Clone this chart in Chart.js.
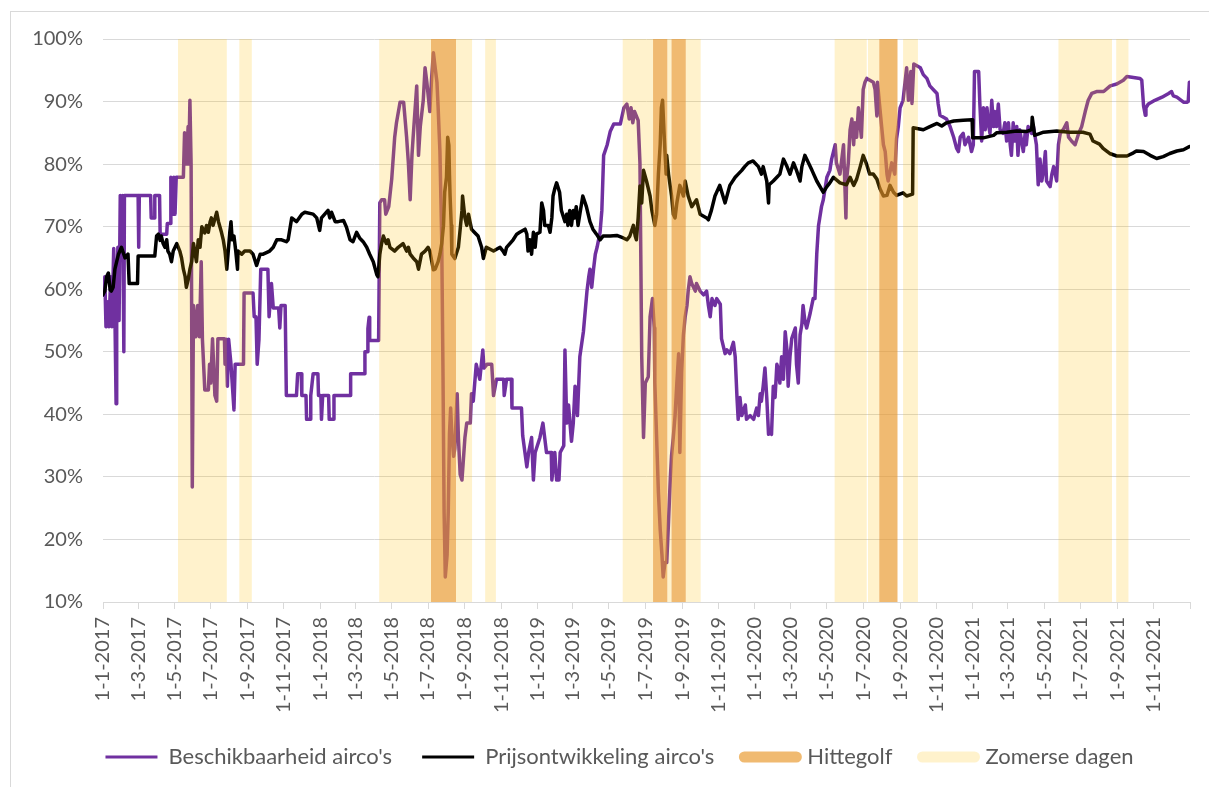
<!DOCTYPE html>
<html>
<head>
<meta charset="utf-8">
<script src="https://cdn.jsdelivr.net/npm/chart.js@4.4.1/dist/chart.umd.min.js"></script>
<style>
  html, body { margin: 0; padding: 0; background: #fff; }
  #wrap { position: relative; width: 1209px; height: 787px; }
  #frame { position: absolute; left: 10px; top: 11px; right: 0; bottom: 0; border-left: 1px solid #d9d9d9; border-top: 1px solid #d9d9d9; }
  #chart { position: relative; }
</style>
</head>
<body>
<div id="wrap">
  <div id="frame"></div>
  <canvas id="chart"></canvas>
</div>
<script>
// tick labels on the date axis (every two months)
const tickLabels = [
  '1-1-2017', '1-3-2017', '1-5-2017', '1-7-2017', '1-9-2017', '1-11-2017',
  '1-1-2018', '1-3-2018', '1-5-2018', '1-7-2018', '1-9-2018', '1-11-2018',
  '1-1-2019', '1-3-2019', '1-5-2019', '1-7-2019', '1-9-2019', '1-11-2019',
  '1-1-2020', '1-3-2020', '1-5-2020', '1-7-2020', '1-9-2020', '1-11-2020',
  '1-1-2021', '1-3-2021', '1-5-2021', '1-7-2021', '1-9-2021', '1-11-2021'
];
const axisEnd = '1-1-2022';

// Beschikbaarheid airco's
const availDates = [
  '2017-01-01','2017-01-03','2017-01-04','2017-01-06','2017-01-09','2017-01-11','2017-01-14','2017-01-16',
  '2017-01-19','2017-01-21','2017-01-23','2017-01-24','2017-01-26','2017-01-28','2017-01-30','2017-02-02',
  '2017-02-03','2017-02-05','2017-02-06','2017-03-01','2017-03-02','2017-03-03','2017-03-22','2017-03-23',
  '2017-03-28','2017-03-29','2017-04-06','2017-04-07','2017-04-18','2017-04-19','2017-04-24','2017-04-25',
  '2017-04-28','2017-04-30','2017-05-02','2017-05-04','2017-05-16','2017-05-18','2017-05-21','2017-05-24',
  '2017-05-25','2017-05-27','2017-05-29','2017-05-31','2017-06-02','2017-06-06','2017-06-09','2017-06-12',
  '2017-06-15','2017-06-17','2017-06-21','2017-06-27','2017-06-29','2017-07-01','2017-07-04','2017-07-08',
  '2017-07-11','2017-07-13','2017-07-24','2017-07-25','2017-07-27','2017-07-29','2017-07-31','2017-08-04',
  '2017-08-09','2017-08-11','2017-08-25','2017-08-26','2017-09-10','2017-09-12','2017-09-15','2017-09-17',
  '2017-09-20','2017-09-23','2017-10-05','2017-10-07','2017-10-11','2017-10-14','2017-10-23','2017-10-25',
  '2017-10-27','2017-11-03','2017-11-05','2017-11-22','2017-11-24','2017-11-30','2017-12-01','2017-12-08',
  '2017-12-09','2017-12-15','2017-12-16','2017-12-20','2017-12-28','2017-12-29','2018-01-02','2018-01-03',
  '2018-01-05','2018-01-15','2018-01-16','2018-01-23','2018-01-24','2018-02-20','2018-02-21','2018-03-16',
  '2018-03-17','2018-03-21','2018-03-22','2018-03-24','2018-03-25','2018-04-09','2018-04-11','2018-04-14',
  '2018-04-19','2018-04-21','2018-04-26','2018-05-01','2018-05-06','2018-05-09','2018-05-15','2018-05-21',
  '2018-05-24','2018-05-26','2018-05-29','2018-06-01','2018-06-04','2018-06-06','2018-06-12','2018-06-15',
  '2018-06-18','2018-06-23','2018-06-26','2018-06-29','2018-07-04','2018-07-07','2018-07-10','2018-07-13',
  '2018-07-16','2018-07-18','2018-07-21','2018-07-24','2018-07-26','2018-07-28','2018-07-30','2018-08-02',
  '2018-08-04','2018-08-06','2018-08-08','2018-08-10','2018-08-13','2018-08-15','2018-08-19','2018-08-21',
  '2018-08-24','2018-08-27','2018-08-29','2018-09-01','2018-09-04','2018-09-10','2018-09-12','2018-09-15',
  '2018-09-20','2018-09-26','2018-10-01','2018-10-03','2018-10-08','2018-10-16','2018-10-19','2018-10-24',
  '2018-11-05','2018-11-06','2018-11-10','2018-11-18','2018-11-19','2018-12-05','2018-12-07','2018-12-14',
  '2018-12-17','2018-12-22','2018-12-25','2018-12-28','2019-01-05','2019-01-10','2019-01-16','2019-01-24',
  '2019-01-25','2019-01-30','2019-02-02','2019-02-06','2019-02-08','2019-02-14','2019-02-16','2019-02-19',
  '2019-02-22','2019-02-27','2019-03-02','2019-03-05','2019-03-09','2019-03-13','2019-03-19','2019-03-25',
  '2019-03-28','2019-03-30','2019-04-02','2019-04-05','2019-04-08','2019-04-11','2019-04-16','2019-04-19',
  '2019-04-22','2019-04-28','2019-05-03','2019-05-09','2019-05-20','2019-05-26','2019-05-31','2019-06-04',
  '2019-06-07','2019-06-10','2019-06-13','2019-06-19','2019-06-22','2019-06-25','2019-06-28','2019-07-01',
  '2019-07-06','2019-07-09','2019-07-13','2019-07-16','2019-07-17','2019-07-20','2019-07-23','2019-07-26',
  '2019-07-29','2019-07-31','2019-08-03','2019-08-06','2019-08-09','2019-08-12','2019-08-14','2019-08-17',
  '2019-08-20','2019-08-23','2019-08-26','2019-08-28','2019-08-31','2019-09-03','2019-09-06','2019-09-09',
  '2019-09-11','2019-09-14','2019-09-17','2019-09-23','2019-09-25','2019-10-01','2019-10-07','2019-10-12',
  '2019-10-15','2019-10-18','2019-10-21','2019-10-26','2019-10-29','2019-11-04','2019-11-06','2019-11-12',
  '2019-11-15','2019-11-20','2019-11-26','2019-11-29','2019-12-02','2019-12-04','2019-12-07','2019-12-10',
  '2019-12-16','2019-12-18','2019-12-24','2019-12-30','2020-01-04','2020-01-07','2020-01-10','2020-01-12',
  '2020-01-15','2020-01-18','2020-01-21','2020-01-24','2020-01-26','2020-01-29','2020-02-01','2020-02-04',
  '2020-02-07','2020-02-09','2020-02-12','2020-02-15','2020-02-18','2020-02-21','2020-02-24','2020-02-26',
  '2020-02-29','2020-03-03','2020-03-09','2020-03-11','2020-03-14','2020-03-17','2020-03-20','2020-03-22',
  '2020-03-25','2020-03-28','2020-04-03','2020-04-08','2020-04-11','2020-04-14','2020-04-17','2020-04-19',
  '2020-04-22','2020-04-25','2020-04-28','2020-05-01','2020-05-06','2020-05-09','2020-05-15','2020-05-17',
  '2020-05-23','2020-05-29','2020-05-31','2020-06-02','2020-06-03','2020-06-06','2020-06-09','2020-06-12',
  '2020-06-15','2020-06-17','2020-06-20','2020-06-23','2020-06-28','2020-07-01','2020-07-04','2020-07-07',
  '2020-07-18','2020-07-21','2020-07-24','2020-07-25','2020-07-29','2020-08-01','2020-08-04','2020-08-07',
  '2020-08-10','2020-08-12','2020-08-18','2020-08-23','2020-08-26','2020-08-29','2020-09-01','2020-09-06',
  '2020-09-12','2020-09-15','2020-09-19','2020-09-21','2020-09-24','2020-10-05','2020-10-10','2020-10-16',
  '2020-10-21','2020-10-27','2020-11-02','2020-11-04','2020-11-07','2020-11-18','2020-11-24','2020-11-30',
  '2020-12-05','2020-12-08','2020-12-11','2020-12-16','2020-12-19','2020-12-25','2020-12-30','2021-01-02',
  '2021-01-04','2021-01-11','2021-01-13','2021-01-16','2021-01-19','2021-01-22','2021-01-25','2021-01-27',
  '2021-01-30','2021-02-02','2021-02-05','2021-02-07','2021-02-10','2021-02-13','2021-02-16','2021-02-21',
  '2021-02-24','2021-02-27','2021-03-02','2021-03-05','2021-03-07','2021-03-10','2021-03-13','2021-03-16',
  '2021-03-18','2021-03-21','2021-03-27','2021-03-30','2021-04-01','2021-04-04','2021-04-10','2021-04-13',
  '2021-04-18','2021-04-21','2021-04-24','2021-04-27','2021-04-30','2021-05-03','2021-05-05','2021-05-11',
  '2021-05-14','2021-05-17','2021-05-22','2021-05-25','2021-05-28','2021-06-02','2021-06-08','2021-06-11',
  '2021-06-16','2021-06-22','2021-06-28','2021-07-03','2021-07-09','2021-07-14','2021-07-20','2021-07-28',
  '2021-08-09','2021-08-20','2021-08-31','2021-09-11','2021-09-17','2021-10-09','2021-10-12','2021-10-15',
  '2021-10-18','2021-10-19','2021-10-23','2021-11-03','2021-11-15','2021-11-26','2021-12-01','2021-12-04',
  '2021-12-10','2021-12-21','2021-12-27','2021-12-29','2021-12-31'
];
const availValues = [
  61.5, 59, 62, 54, 58, 54, 62, 54,
  66.5, 56, 41.7, 60, 66.7, 55, 75, 66,
  75, 50, 75, 75, 66.7, 75, 75, 71.4,
  71.4, 75, 75, 68.8, 68.8, 70.5, 70.5, 77.9,
  72, 77.9, 72, 77.9, 77.9, 85, 80, 86,
  80, 90.2, 80, 28.4, 57.4, 52.4, 57.4, 52.4,
  64.4, 52, 43.9, 43.9, 48, 45, 52.1, 43,
  42.1, 52.1, 52.1, 48, 52, 44.5, 52, 48,
  40.7, 48, 48, 59.4, 59.4, 55.6, 55.6, 48,
  52, 63.2, 63.2, 55.6, 60.9, 57, 57, 53.8,
  57.4, 57.4, 43, 43, 46.5, 46.5, 43, 43,
  39.2, 39.2, 43, 46.5, 46.5, 43, 43, 39.2,
  43, 43, 39.2, 39.2, 43, 43, 46.5, 46.5,
  50, 50, 53.7, 55.5, 51.8, 51.8, 73.8, 74.3,
  74.3, 72, 73.2, 77.6, 84.3, 86.6, 89.9, 89.9,
  86.6, 84.3, 80.2, 74.3, 81.4, 84.3, 92.5, 81.4,
  86, 90.2, 95.4, 93.1, 88.4, 93.7, 97.8, 95.4,
  93.1, 89, 82, 67.9, 48, 24.5, 14, 17.5,
  24.5, 36.8, 41, 36.8, 33.3, 34.5, 43.3, 36.3,
  30.4, 29.5, 32.2, 36.3, 38.6, 38.6, 43.3, 42.1,
  48, 45.6, 50.3, 47.4, 48, 48, 43, 45.6,
  45.6, 43, 45.6, 45.6, 41, 41, 36.6, 31.6,
  33.9, 36.3, 29.5, 33.9, 36.3, 38.6, 33.9, 33.9,
  29.5, 33.9, 29.5, 29.5, 33.9, 35, 50.3, 38.6,
  41.5, 35.7, 38.6, 44.5, 39.8, 49.2, 53.2, 59.7,
  62, 63.2, 60.3, 63.2, 65.6, 66.7, 69.1, 72.6,
  81.4, 83.1, 85.2, 86.4, 86.4, 89, 89.6, 87.2,
  89, 86.6, 88.4, 87, 80.2, 49.2, 36.3, 45,
  46, 55.6, 58.5, 53.8, 45, 36.3, 27.5, 21.6,
  17.5, 14, 16.3, 16.3, 22.8, 29.8, 33.3, 36.3,
  39.8, 45, 49.7, 33.9, 46.8, 52.7, 55.6, 57.4,
  59.7, 62, 60.9, 59.7, 60.9, 59.7, 59.1, 59.7,
  57.4, 55.6, 58.5, 57.4, 58.5, 57.6, 52.1, 49.7,
  50.3, 49.7, 51.5, 49.2, 42.7, 39.2, 42.7, 39.8,
  41.5, 39.2, 39.8, 39.2, 41, 39.8, 43.3, 42.1,
  44.5, 47.4, 42.7, 36.8, 37.5, 36.8, 44.5, 42.7,
  48, 47.4, 45, 49.2, 45.6, 53.2, 50.3, 44.5,
  49.2, 52.1, 53.8, 48, 45, 52.7, 54.4, 57.4,
  55, 53.8, 56.2, 58.5, 58.5, 65.6, 70.2, 71.4,
  73.2, 74.3, 76.1, 77.9, 79, 80.8, 83.1, 80.2,
  78.4, 83.1, 77.3, 71.4, 77.3, 80.2, 85.5, 87.2,
  83.1, 86.6, 84.3, 89, 84.3, 91.9, 93.1, 93.7,
  93.1, 91.9, 87.7, 93.1, 89, 86, 83.1, 82,
  78.4, 77.3, 80.2, 78.4, 84, 86, 89, 90.2,
  95.4, 90.2, 94.8, 89.7, 96, 95.4, 94.3, 93.7,
  92.5, 91.9, 91.3, 89.6, 87.8, 87.2, 86, 84.3,
  82.5, 82, 84.3, 84.9, 83.1, 84.3, 82, 83.1,
  94.8, 94.8, 89.6, 83.7, 89, 85.5, 89, 86.6,
  84.9, 90.2, 86, 88.4, 86, 89.6, 85.5, 84.9,
  86.6, 83.7, 86.6, 83.1, 81.4, 86.6, 83.7, 86,
  81.4, 85.5, 82, 84.9, 83.1, 86, 84.9, 86,
  83.1, 76.7, 80.8, 77.3, 79, 82, 77.3, 76.4,
  78.4, 79.6, 77.3, 83.1, 84.9, 85.5, 86.6, 84.3,
  83.7, 83.1, 84.9, 86, 88.4, 90.2, 91.3, 91.6,
  91.6, 92.5, 92.8, 93.4, 94, 93.7, 93.4, 89.3,
  87.8, 89, 89.6, 90.2, 90.7, 91.3, 91.6, 90.9,
  90.7, 89.9, 89.9, 90, 93.1
];

// Prijsontwikkeling airco's
const priceDates = [
  '2017-01-01','2017-01-04','2017-01-07','2017-01-10','2017-01-13','2017-01-15','2017-01-18','2017-01-21',
  '2017-01-27','2017-02-01','2017-02-07','2017-02-12','2017-02-14','2017-02-28','2017-03-01','2017-03-29',
  '2017-04-01','2017-04-04','2017-04-07','2017-04-09','2017-04-12','2017-04-15','2017-04-18','2017-04-20',
  '2017-04-23','2017-04-26','2017-04-29','2017-05-05','2017-05-10','2017-05-13','2017-05-16','2017-05-19',
  '2017-05-21','2017-05-24','2017-05-27','2017-05-30','2017-06-02','2017-06-04','2017-06-07','2017-06-10',
  '2017-06-13','2017-06-16','2017-06-21','2017-06-24','2017-06-27','2017-06-30','2017-07-02','2017-07-05',
  '2017-07-11','2017-07-14','2017-07-19','2017-07-22','2017-07-25','2017-07-28','2017-07-30','2017-08-02',
  '2017-08-04','2017-08-06','2017-08-09','2017-08-12','2017-08-15','2017-08-16','2017-08-22','2017-08-27',
  '2017-09-05','2017-09-10','2017-09-16','2017-09-22','2017-09-27','2017-10-08','2017-10-14','2017-10-20',
  '2017-10-28','2017-11-05','2017-11-08','2017-11-14','2017-11-22','2017-12-01','2017-12-06','2017-12-20',
  '2017-12-26','2017-12-31','2018-01-03','2018-01-14','2018-01-17','2018-01-20','2018-01-26','2018-01-31',
  '2018-02-09','2018-02-14','2018-02-20','2018-02-25','2018-03-03','2018-03-08','2018-03-14','2018-03-20',
  '2018-03-25','2018-03-31','2018-04-06','2018-04-08','2018-04-11','2018-04-14','2018-04-17','2018-04-22',
  '2018-04-25','2018-04-28','2018-05-06','2018-05-12','2018-05-20','2018-05-26','2018-05-29','2018-06-01',
  '2018-06-06','2018-06-12','2018-06-15','2018-06-20','2018-06-26','2018-07-01','2018-07-04','2018-07-10',
  '2018-07-13','2018-07-18','2018-07-21','2018-07-24','2018-07-27','2018-07-29','2018-08-01','2018-08-03',
  '2018-08-05','2018-08-06','2018-08-07','2018-08-09','2018-08-10','2018-08-15','2018-08-21','2018-08-24',
  '2018-08-27','2018-08-28','2018-09-01','2018-09-04','2018-09-07','2018-09-12','2018-09-18','2018-09-23',
  '2018-09-29','2018-10-02','2018-10-07','2018-10-19','2018-10-30','2018-11-04','2018-11-07','2018-11-10',
  '2018-11-21','2018-11-27','2018-12-02','2018-12-11','2018-12-14','2018-12-16','2018-12-19','2018-12-22',
  '2018-12-25','2018-12-28','2018-12-30','2019-01-05','2019-01-08','2019-01-11','2019-01-13','2019-01-19',
  '2019-01-22','2019-01-25','2019-01-27','2019-01-30','2019-02-02','2019-02-07','2019-02-10','2019-02-16',
  '2019-02-19','2019-02-21','2019-02-24','2019-02-27','2019-03-02','2019-03-04','2019-03-07','2019-03-10',
  '2019-03-13','2019-03-18','2019-03-24','2019-03-30','2019-04-04','2019-04-10','2019-04-16','2019-04-21',
  '2019-05-03','2019-05-14','2019-05-25','2019-05-31','2019-06-05','2019-06-11','2019-06-14','2019-06-16',
  '2019-06-19','2019-06-22','2019-06-25','2019-06-28','2019-07-03','2019-07-09','2019-07-12','2019-07-17',
  '2019-07-20','2019-07-23','2019-07-26','2019-07-28','2019-07-30','2019-08-01','2019-08-03','2019-08-05',
  '2019-08-06','2019-08-09','2019-08-14','2019-08-17','2019-08-20','2019-08-23','2019-08-28','2019-09-03',
  '2019-09-06','2019-09-11','2019-09-17','2019-09-25','2019-10-01','2019-10-12','2019-10-15','2019-10-20',
  '2019-10-26','2019-11-03','2019-11-12','2019-11-20','2019-11-29','2019-12-04','2019-12-10','2019-12-15',
  '2019-12-21','2019-12-29','2020-01-07','2020-01-12','2020-01-15','2020-01-21','2020-01-24','2020-01-25',
  '2020-02-01','2020-02-07','2020-02-12','2020-02-18','2020-02-24','2020-02-29','2020-03-06','2020-03-11',
  '2020-03-17','2020-03-20','2020-03-25','2020-03-31','2020-04-06','2020-04-14','2020-04-25','2020-05-01',
  '2020-05-06','2020-05-12','2020-05-23','2020-06-03','2020-06-09','2020-06-15','2020-06-20','2020-06-26',
  '2020-07-01','2020-07-07','2020-07-12','2020-07-18','2020-07-24','2020-07-29','2020-08-04','2020-08-10',
  '2020-08-15','2020-08-21','2020-08-26','2020-09-06','2020-09-12','2020-09-22','2020-09-23','2020-10-10',
  '2020-10-21','2020-11-02','2020-11-10','2020-11-18','2020-11-30','2020-12-16','2020-12-31','2021-01-01',
  '2021-01-19','2021-02-05','2021-02-10','2021-02-27','2021-03-16','2021-04-01','2021-04-10','2021-04-11',
  '2021-04-15','2021-04-30','2021-05-22','2021-06-13','2021-07-05','2021-07-17','2021-07-22','2021-08-02',
  '2021-08-08','2021-08-19','2021-08-31','2021-09-17','2021-09-28','2021-10-03','2021-10-15','2021-10-26',
  '2021-11-06','2021-11-17','2021-11-28','2021-12-10','2021-12-21','2021-12-31'
];
const priceValues = [
  59.1, 59.7, 62, 62.6, 59.9, 59.7, 60.3, 63.2,
  65.6, 66.7, 65, 65.6, 60.9, 60.9, 65.3, 65.3,
  68.5, 68.8, 67.8, 68.5, 67.3, 66.7, 67.9, 66.1,
  65.6, 64.4, 66.1, 67.3, 66.1, 65, 63.2, 62,
  60.3, 61.5, 63.2, 64.4, 67.3, 66.1, 64.4, 67.9,
  66.7, 70, 69, 70.2, 69.1, 70.8, 71.4, 70.2,
  72.3, 70.8, 69.1, 67.9, 66.1, 63.2, 65.6, 69.1,
  70.8, 67.9, 68.5, 66.1, 63.2, 66.1, 65.6, 66.1,
  66.1, 65.6, 63.8, 65.6, 65.6, 66.1, 66.7, 67.9,
  67.9, 67.6, 67.9, 71.4, 70.8, 72, 72.3, 72,
  71.4, 69.4, 71.4, 72.6, 71.4, 72.3, 70.8, 70.8,
  71, 69.9, 67.9, 67.6, 69.1, 68.2, 67.6, 66.7,
  65.6, 64.4, 62.3, 62, 65.6, 67.3, 68.5, 67.3,
  67.9, 66.7, 66.1, 66.7, 67.3, 66.1, 66.7, 65.6,
  65, 64.4, 63.2, 65.6, 66.1, 66.7, 66.1, 63.1,
  63.2, 64.4, 65.6, 67.3, 70.2, 75.5, 77.9, 84.3,
  83, 78.4, 75, 70.2, 65.6, 64.9, 66.7, 69.6,
  72.6, 74.9, 71.4, 70.2, 72, 69.6, 69, 68.5,
  66.7, 64.9, 66.7, 66.1, 66.7, 66.1, 65.6, 66.7,
  67.9, 68.8, 69.1, 69.6, 68.8, 66.1, 67.9, 65.6,
  69.1, 66.7, 68.8, 69.1, 73.8, 72.6, 70.2, 70.2,
  69.1, 71.4, 74.9, 76.1, 77, 75.5, 72.6, 70.8,
  72, 70.2, 72.6, 70.2, 72.6, 71.4, 73.2, 70.2,
  72, 74.9, 73.2, 70.8, 69.6, 68.8, 67.9, 68.5,
  68.5, 68.6, 68.2, 67.9, 68.5, 70.2, 68.5, 67.9,
  71.4, 76.5, 73.8, 79, 77.3, 74.9, 72.6, 70.2,
  72, 78.4, 83.1, 89, 90.2, 86, 82, 78.4,
  81.4, 78.4, 75, 72, 71.4, 73.8, 76.6, 74.9,
  77.3, 74.9, 73.2, 74.3, 72, 71.4, 71.1, 72.6,
  74.9, 76.6, 73.8, 76.6, 77.9, 78.4, 79, 79.6,
  80.2, 80.5, 79.6, 78.4, 79.6, 77.3, 73.8, 76.7,
  77.3, 77.9, 78.4, 80.8, 79.6, 78.4, 80.2, 79,
  77.3, 79.6, 81.4, 80.2, 79, 77.3, 75.5, 76.4,
  77, 77.9, 77, 76.7, 77.9, 76.6, 77.6, 79.6,
  81.4, 79.9, 78.4, 78.4, 77.6, 76.1, 74.9, 75,
  76.6, 75.5, 75, 75.4, 74.9, 75.2, 85.8, 85.5,
  86, 86.5, 86.1, 86.6, 86.9, 87, 87.1, 84.2,
  84.2, 84.6, 85, 85.1, 85.3, 85.2, 85.5, 87.5,
  84.6, 85.1, 85.3, 85.1, 85.1, 84.8, 83.7, 83.2,
  82.5, 81.7, 81.3, 81.3, 81.8, 82.1, 82, 81.4,
  80.9, 81.2, 81.7, 82.1, 82.3, 82.8
];

// shaded periods: [first day, last day]
const hittegolf = [
  ['2018-07-06', '2018-08-17'],
  ['2019-07-14', '2019-08-07'],
  ['2019-08-14', '2019-09-07'],
  ['2020-07-28', '2020-08-28']
];
const zomerseDagen = [
  ['2017-05-07', '2017-07-28'],
  ['2017-08-18', '2017-09-08'],
  ['2018-04-10', '2018-07-06'],
  ['2018-08-17', '2018-09-13'],
  ['2018-10-05', '2018-10-23'],
  ['2019-05-24', '2019-07-14'],
  ['2019-08-07', '2019-08-14'],
  ['2019-09-07', '2019-10-02'],
  ['2020-05-14', '2020-07-07'],
  ['2020-07-09', '2020-07-28'],
  ['2020-09-06', '2020-10-01'],
  ['2021-05-25', '2021-08-23'],
  ['2021-08-30', '2021-09-20']
];

const PURPLE = '#7030A0';
const HEAT = 'rgba(232, 150, 40, 0.66)';
const SUMMER = 'rgba(255, 192, 0, 0.2)';
const TEXT = '#595959';
const GRID = '#d9d9d9';
const Y_MIN = 10;
const Y_MAX = 100;

const START = Date.UTC(2017, 0, 1);
const DAY = 86400000;

function isoDay(s) {
    const p = s.split('-').map(Number);
    return (Date.UTC(p[0], p[1] - 1, p[2]) - START) / DAY;
}

function labelDay(s) {
    const p = s.split('-').map(Number);
    return (Date.UTC(p[2], p[1] - 1, p[0]) - START) / DAY;
}

function toPoints(dates, values) {
    return dates.map((d, i) => ({ x: isoDay(d), y: values[i] }));
}

// each period becomes a block from the bottom to the top of the value axis
function bandPoints(ranges) {
    const pts = [];
    ranges.forEach(([a, b]) => {
        const s = isoDay(a);
        const e = isoDay(b);
        pts.push({ x: s, y: Y_MIN }, { x: s, y: Y_MAX }, { x: e, y: Y_MAX }, { x: e, y: Y_MIN });
    });
    return pts;
}

const tickDays = tickLabels.map(labelDay).concat([labelDay(axisEnd)]);

const legendItems = [
    { text: "Beschikbaarheid airco's", color: PURPLE, width: 3, cap: 'butt' },
    { text: "Prijsontwikkeling airco's", color: '#000000', width: 3, cap: 'butt' },
    { text: 'Hittegolf', color: HEAT, width: 11, cap: 'round' },
    { text: 'Zomerse dagen', color: SUMMER, width: 11, cap: 'round' }
];

Chart.defaults.font.family = 'Lato';

const lineStyle = {
    borderWidth: 3.5,
    pointRadius: 0,
    pointHitRadius: 0,
    tension: 0,
    fill: false,
    borderJoinStyle: 'round',
    borderCapStyle: 'round'
};

new Chart(document.getElementById('chart'), {
    type: 'line',
    data: {
        datasets: [
            {
                label: 'Hittegolf',
                data: bandPoints(hittegolf),
                backgroundColor: HEAT,
                borderColor: 'rgba(0,0,0,0)',
                borderWidth: 0,
                pointRadius: 0,
                fill: 'start',
                order: 0
            },
            {
                label: 'Zomerse dagen',
                data: bandPoints(zomerseDagen),
                backgroundColor: SUMMER,
                borderColor: 'rgba(0,0,0,0)',
                borderWidth: 0,
                pointRadius: 0,
                fill: 'start',
                order: 1
            },
            Object.assign({
                label: "Prijsontwikkeling airco's",
                data: toPoints(priceDates, priceValues),
                borderColor: '#000000',
                order: 2
            }, lineStyle),
            Object.assign({
                label: "Beschikbaarheid airco's",
                data: toPoints(availDates, availValues),
                borderColor: PURPLE,
                order: 3
            }, lineStyle)
        ]
    },
    options: {
        responsive: true,
        maintainAspectRatio: false,
        animation: false,
        layout: { padding: { top: 39, left: 30, right: 0, bottom: 11 } },
        scales: {
            x: {
                type: 'linear',
                min: 0,
                max: labelDay(axisEnd),
                afterBuildTicks: (scale) => {
                    scale.ticks = tickDays.map(v => ({ value: v }));
                },
                afterFit: (scale) => { scale.height = 114; },
                ticks: {
                    autoSkip: false,
                    minRotation: 90,
                    maxRotation: 90,
                    padding: 8,
                    color: TEXT,
                    // small line height keeps the rotated labels from reserving extra room on the right
                    font: { size: 20, lineHeight: 0.5 },
                    callback: (value, index) => tickLabels[index] || ''
                },
                grid: { drawOnChartArea: false, drawTicks: true, tickLength: 7, color: GRID },
                border: { color: GRID }
            },
            y: {
                min: Y_MIN,
                max: Y_MAX,
                afterFit: (scale) => { scale.width = 73; },
                ticks: {
                    stepSize: 10,
                    padding: 20,
                    color: TEXT,
                    font: { size: 20 },
                    callback: v => v + '%'
                },
                grid: { color: GRID, drawTicks: false },
                border: { display: false }
            },
            // empty strip on the right so the plot ends where the original does
            yRight: {
                type: 'linear',
                position: 'right',
                min: Y_MIN,
                max: Y_MAX,
                afterFit: (scale) => { scale.width = 19; },
                ticks: { display: false },
                grid: { display: false },
                border: { display: false }
            }
        },
        plugins: {
            tooltip: { enabled: false },
            legend: {
                position: 'bottom',
                maxHeight: 60,
                labels: {
                    usePointStyle: true,
                    pointStyleWidth: 52,
                    padding: 30,
                    font: { size: 22 },
                    color: TEXT,
                    generateLabels: () => legendItems.map((it, i) => ({
                        text: it.text,
                        fillStyle: it.color,
                        strokeStyle: it.color,
                        lineWidth: it.width,
                        lineCap: it.cap,
                        pointStyle: 'line',
                        fontColor: TEXT,
                        hidden: false,
                        datasetIndex: i
                    }))
                }
            }
        }
    }
});
</script>
</body>
</html>
